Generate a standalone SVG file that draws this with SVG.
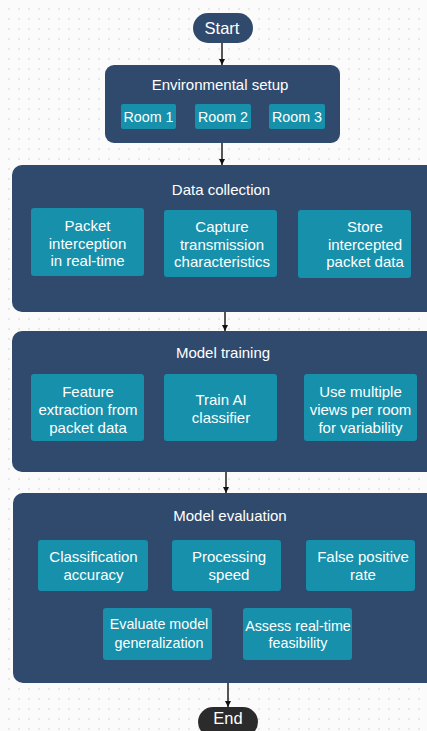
<svg xmlns="http://www.w3.org/2000/svg" width="427" height="731" viewBox="0 0 427 731">
<defs>
<pattern id="dots" x="4" y="4" width="10" height="10" patternUnits="userSpaceOnUse">
<circle cx="5" cy="5" r="0.9" fill="#dedede"/>
</pattern>
<marker id="arr" viewBox="0 0 10 10" refX="10" refY="5" markerWidth="6" markerHeight="6" orient="auto" markerUnits="userSpaceOnUse">
<path d="M0,0 L10,5 L0,10 z" fill="#111"/>
</marker>
<style>
.big{fill:#2f4a6d;}
.sub{fill:#1690ab;}
.t{font-family:"Liberation Sans",Arial,sans-serif;fill:#fff;text-anchor:middle;font-size:15px;}
.ts{font-family:"Liberation Sans",Arial,sans-serif;fill:#fff;text-anchor:middle;font-size:14.3px;}
.tt{font-family:"Liberation Sans",Arial,sans-serif;fill:#fff;text-anchor:middle;font-size:16.5px;}
.c{stroke:#111;stroke-width:1.4;fill:none;marker-end:url(#arr);}
</style>
</defs>
<rect width="427" height="731" fill="#fbfbfb"/>
<rect x="8" y="8" width="419" height="723" fill="url(#dots)"/>

<g id="connectors">
<line class="c" x1="222" y1="43" x2="222" y2="65"/>
<line class="c" x1="222" y1="143" x2="222" y2="165"/>
<line class="c" x1="225" y1="312" x2="225" y2="331"/>
<line class="c" x1="226" y1="472" x2="226" y2="493"/>
<line class="c" x1="228" y1="683" x2="228" y2="707"/>
</g>

<g id="start">
<rect x="193" y="13" width="60" height="30" rx="15" class="big"/>
<text x="222" y="33.5" class="tt">Start</text>
</g>

<g id="env">
<rect x="105" y="65" width="235" height="78" rx="9" class="big"/>
<text x="220" y="90" class="t">Environmental setup</text>
</g>
<g id="room1">
<rect x="121" y="104" width="55" height="25" rx="2" class="sub"/>
<text x="148.5" y="121.5" class="ts">Room 1</text>
</g>
<g id="room2">
<rect x="195" y="104" width="56" height="25" rx="2" class="sub"/>
<text x="223" y="121.5" class="ts">Room 2</text>
</g>
<g id="room3">
<rect x="269" y="104" width="56" height="25" rx="2" class="sub"/>
<text x="297" y="121.5" class="ts">Room 3</text>
</g>

<g id="datacollection">
<rect x="12" y="165" width="425" height="147" rx="10" class="big"/>
<text x="221" y="195" class="t">Data collection</text>
</g>
<g id="packet">
<rect x="31" y="208" width="113" height="68" rx="3" class="sub"/>
<text x="87.5" y="231" class="t">Packet</text>
<text x="87.5" y="248.5" class="t">interception</text>
<text x="87.5" y="266" class="t">in real-time</text>
</g>
<g id="capture">
<rect x="164" y="210" width="113" height="67" rx="3" class="sub"/>
<text x="222" y="232" class="t">Capture</text>
<text x="222" y="249.5" class="t">transmission</text>
<text x="222" y="267" class="t">characteristics</text>
</g>
<g id="store">
<rect x="298" y="210" width="113" height="68" rx="3" class="sub"/>
<text x="365" y="232" class="t">Store</text>
<text x="365" y="249.5" class="t">intercepted</text>
<text x="365" y="267" class="t">packet data</text>
</g>

<g id="training">
<rect x="12" y="331" width="425" height="141" rx="10" class="big"/>
<text x="223" y="358" class="t">Model training</text>
</g>
<g id="feature">
<rect x="31" y="374" width="113" height="67" rx="3" class="sub"/>
<text x="88" y="397" class="t">Feature</text>
<text x="88" y="415" class="t">extraction from</text>
<text x="88" y="433" class="t">packet data</text>
</g>
<g id="trainai">
<rect x="164" y="374" width="113" height="67" rx="3" class="sub"/>
<text x="221" y="405" class="t">Train AI</text>
<text x="221" y="423" class="t">classifier</text>
</g>
<g id="views">
<rect x="304" y="374" width="113" height="67" rx="3" class="sub"/>
<text x="360.5" y="397" class="t">Use multiple</text>
<text x="360.5" y="415" class="t">views per room</text>
<text x="360.5" y="433" class="t">for variability</text>
</g>

<g id="evaluation">
<rect x="13" y="493" width="424" height="190" rx="10" class="big"/>
<text x="230" y="521" class="t">Model evaluation</text>
</g>
<g id="accuracy">
<rect x="38" y="540" width="110" height="51" rx="3" class="sub"/>
<text x="93.5" y="562" class="t">Classification</text>
<text x="93.5" y="580" class="t">accuracy</text>
</g>
<g id="speed">
<rect x="172" y="540" width="109" height="51" rx="3" class="sub"/>
<text x="229" y="562" class="t">Processing</text>
<text x="229" y="580" class="t">speed</text>
</g>
<g id="falsepos">
<rect x="306" y="540" width="109" height="51" rx="3" class="sub"/>
<text x="363" y="562" class="t">False positive</text>
<text x="363" y="580" class="t">rate</text>
</g>
<g id="generalization">
<rect x="103" y="608" width="109" height="52" rx="3" class="sub"/>
<text x="159" y="629" class="ts">Evaluate model</text>
<text x="159" y="647.5" class="ts">generalization</text>
</g>
<g id="feasibility">
<rect x="243" y="608" width="109" height="52" rx="3" class="sub"/>
<text x="298" y="631" class="ts">Assess real-time</text>
<text x="298" y="648" class="ts">feasibility</text>
</g>

<g id="end">
<rect x="198" y="707" width="60" height="30" rx="15" fill="#2b2b2c"/>
<text x="228" y="723.5" class="tt">End</text>
</g>
</svg>
